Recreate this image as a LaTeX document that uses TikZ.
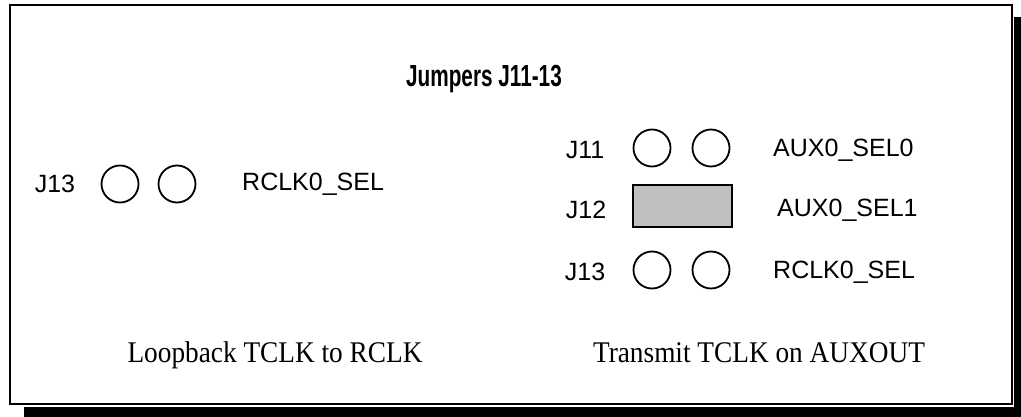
\documentclass[tikz,border=0pt]{standalone}
\usepackage{fontspec}
\setmainfont{Liberation Serif}
\newfontfamily\arialf{Liberation Sans}
\begin{document}
\begin{tikzpicture}[x=1pt,y=-1pt,
  lbl/.style={font=\arialf\fontsize{25}{28}\selectfont, inner sep=0pt},
  pin/.style={circle, draw=black, line width=1.8pt, minimum size=37pt, inner sep=0pt},
  shunt/.style={draw=black, fill=black!25, line width=1.8pt, minimum width=99pt, minimum height=42pt, inner sep=0pt},
  captext/.style={inner sep=0pt, anchor=base},
  frame/.style={draw=black, line width=2pt}]
\useasboundingbox (0,0) rectangle (1021,417);
% shadow
\fill[black] (1014,17) rectangle (1021,417);
\fill[black] (24,407) rectangle (1021,417);
% frame
\draw[frame] (10,5) rectangle (1012,404);
% title
\node[inner sep=0pt, anchor=base] (title) at (484,87) {\scalebox{0.68}[1]{\arialf\bfseries\fontsize{30.5}{34}\selectfont Jumpers J11-13}};
% left group
\node[lbl] (lj13) at (55,184) {J13};
\node[pin] (lp1) at (120,184) {};
\node[pin] (lp2) at (177,184) {};
\node[lbl, anchor=west] (lrclk) at (242,184) {RCLK0\_SEL};
% right group
\node[lbl] (rj11) at (585,150) {J11};
\node[pin] (r1a) at (652,148) {};
\node[pin] (r1b) at (711,148) {};
\node[lbl, anchor=west] (raux0) at (773,150) {AUX0\_SEL0};
\node[lbl] (rj12) at (586,210) {J12};
\node[shunt] (r2) at (682.5,206) {};
\node[lbl, anchor=west] (raux1) at (777,210) {AUX0\_SEL1};
\node[lbl] (rj13) at (585,272) {J13};
\node[pin] (r3a) at (652,270) {};
\node[pin] (r3b) at (711,270) {};
\node[lbl, anchor=west] (rrclk) at (773,272) {RCLK0\_SEL};
% captions
\node[captext] (lcap) at (275,362) {\scalebox{0.91}[1]{\fontsize{30}{34}\selectfont Loopback TCLK to RCLK}};
\node[captext] (rcap) at (759,362) {\scalebox{0.91}[1]{\fontsize{30}{34}\selectfont Transmit TCLK on AUXOUT}};
\end{tikzpicture}
\end{document}
